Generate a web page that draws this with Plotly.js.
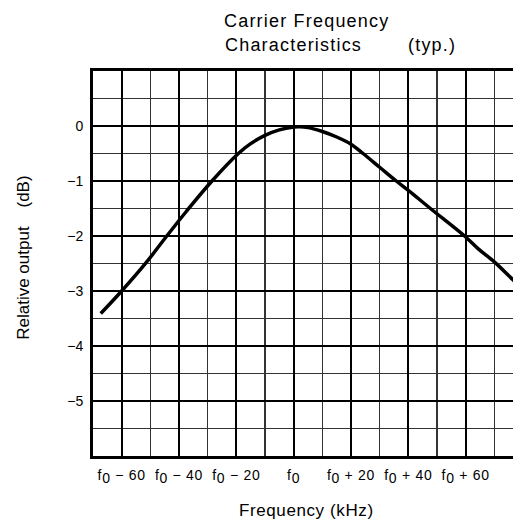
<!DOCTYPE html>
<html>
<head>
<meta charset="utf-8">
<script src="https://cdn.plot.ly/plotly-3.0.1.min.js"></script>
<style>
html,body{margin:0;padding:0;overflow:hidden;background:#fff;}
#chart{width:540px;height:523px;}
</style>
</head>
<body>
<div id="chart"></div>
<script>
// Frequency offset from f0 (kHz) and relative output (dB)
const freqOffset = [-67.3, -60, -51.4, -45, -37.4, -28.5, -19.3, -15, -10, -5, 0, 2, 5, 10, 15, 20, 24.2, 30, 35.8, 40, 47.7, 59.6, 64.3, 70, 76.4, 80];
const relOutput  = [-3.41, -3.0, -2.48, -2.05, -1.55, -1.0, -0.5, -0.32, -0.17, -0.07, -0.02, -0.015, -0.03, -0.1, -0.2, -0.33, -0.5, -0.75, -1.0, -1.17, -1.5, -2.0, -2.23, -2.47, -2.79, -2.96];

const sub0 = '<sub><span style="font-size:14px">0</span></sub>';
const xTickVals = [-60, -40, -20, 0, 20, 40, 60];
const xTickText = ['f' + sub0 + ' − 60', 'f' + sub0 + ' − 40', 'f' + sub0 + ' − 20', 'f' + sub0, 'f' + sub0 + ' + 20', 'f' + sub0 + ' + 40', 'f' + sub0 + ' + 60'];
const yTickVals = [0, -1, -2, -3, -4, -5];
const yTickText = ['0', '−1', '−2', '−3', '−4', '−5'];

const FONT = 'Arial, "Liberation Sans", sans-serif';
const sp = (t, ls) => '<span style="letter-spacing:' + ls + 'px">' + t + '</span>';

const trace = {
  x: freqOffset, y: relOutput, type: 'scatter', mode: 'lines',
  line: {color: '#000', width: 3.5, shape: 'spline', smoothing: 1},
  hoverinfo: 'skip'
};

const layout = {
  width: 540, height: 523,
  margin: {l: 93, r: 17, t: 71, b: 67},
  paper_bgcolor: '#fff', plot_bgcolor: '#fff',
  showlegend: false,
  font: {family: FONT, color: '#000', size: 14},
  xaxis: {
    range: [-70, 80], tickmode: 'array', tickvals: xTickVals,
    ticktext: xTickText.map(t => sp(t, 0.7)),
    showgrid: true, gridcolor: '#000', gridwidth: 2,
    minor: {dtick: 10, tick0: 0, showgrid: true, gridcolor: '#333', gridwidth: 1.5, ticks: ''},
    showline: true, linecolor: '#000', linewidth: 3, mirror: true,
    ticks: '', ticklabelstandoff: 4, zeroline: false, fixedrange: true,
    tickfont: {family: FONT, size: 14, color: '#000'}
  },
  yaxis: {
    range: [-6, 1], tickmode: 'array', tickvals: yTickVals, ticktext: yTickText,
    showgrid: true, gridcolor: '#000', gridwidth: 2.5,
    minor: {dtick: 0.5, tick0: 0, showgrid: true, gridcolor: '#333', gridwidth: 1.5, ticks: ''},
    showline: true, linecolor: '#000', linewidth: 3, mirror: true,
    ticks: '', ticklabelstandoff: 4, zeroline: false, fixedrange: true,
    tickfont: {family: FONT, size: 14, color: '#000'}
  },
  annotations: [
    {text: sp('Carrier Frequency', 1.2), xref: 'paper', yref: 'paper', x: (221.7-93)/430, y: 1 + (71-21.3)/385, xanchor: 'left', yanchor: 'middle', showarrow: false, font: {family: FONT, size: 18, color: '#000'}},
    {text: sp('Characteristics', 1.2), xref: 'paper', yref: 'paper', x: (222.7-93)/430, y: 1 + (71-45.3)/385, xanchor: 'left', yanchor: 'middle', showarrow: false, font: {family: FONT, size: 18, color: '#000'}},
    {text: sp('(typ.)', 1.2), xref: 'paper', yref: 'paper', x: (406-93)/430, y: 1 + (71-45.3)/385, xanchor: 'left', yanchor: 'middle', showarrow: false, font: {family: FONT, size: 18, color: '#000'}},
    {text: sp('Frequency (kHz)', 0.6), xref: 'paper', yref: 'paper', x: (306.7-93)/430, y: -(510-456)/385, xanchor: 'center', yanchor: 'middle', showarrow: false, font: {family: FONT, size: 17, color: '#000'}},
    {text: 'Relative output&nbsp;&nbsp;&nbsp;&nbsp;(dB)', xref: 'paper', yref: 'paper', x: -(93-23.3)/430, y: (456-257.5)/385, xanchor: 'center', yanchor: 'middle', textangle: -90, showarrow: false, font: {family: FONT, size: 17, color: '#000'}}
  ]
};

Plotly.newPlot('chart', [trace], layout, {staticPlot: true, displayModeBar: false});
</script>
</body>
</html>
